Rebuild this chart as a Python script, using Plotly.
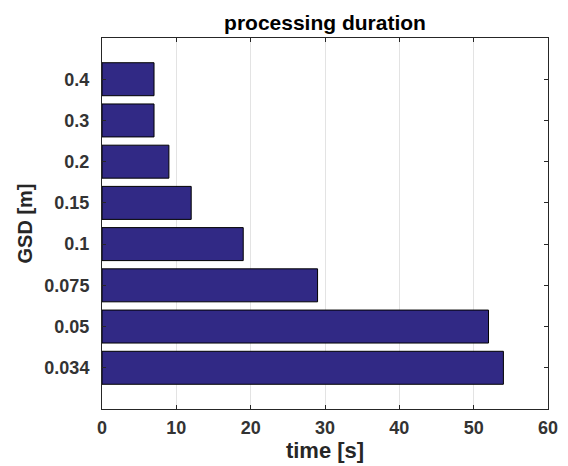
import plotly.graph_objects as go

categories = ["0.034", "0.05", "0.075", "0.1", "0.15", "0.2", "0.3", "0.4"]
times = [54, 52, 29, 19, 12, 9, 7, 7]
x_ticks = [0, 10, 20, 30, 40, 50, 60]

positions = list(range(1, len(categories) + 1))

fig = go.Figure()
fig.add_trace(go.Bar(
    x=times, y=positions, orientation="h", width=0.8,
    marker=dict(color="rgb(49,41,133)", line=dict(color="black", width=1)),
))

# page body has an 8px margin; figure sized so plot sits at x 102..548, y 38..409
W, H = 560, 458
L, R, T, B = 94, 20, 30, 57
fnt = "Liberation Sans, Arial, Helvetica, sans-serif"
fig.update_layout(
    width=W, height=H,
    margin=dict(l=L, r=R, t=T, b=B),
    plot_bgcolor="white", paper_bgcolor="white",
    showlegend=False,
    font=dict(family=fnt, color="#262626"),
    title=dict(text="<b>processing duration</b>", x=(L + (W - R)) / 2 / W, xanchor="center",
               y=1 - 15 / H, yanchor="middle",
               font=dict(size=21, color="black", family=fnt)),
)
fig.update_xaxes(
    range=[0, 60], tickvals=x_ticks, ticktext=[str(v) for v in x_ticks],
    automargin=False,
    showgrid=True, gridcolor="#e3e3e3", gridwidth=1,
    ticks="inside", ticklen=4, tickcolor="#262626",
    showline=True, linecolor="#262626", linewidth=1, mirror="ticks",
    tickfont=dict(size=18, family=fnt, color="#333333", weight="bold"),
    ticklabelstandoff=2,
    title=dict(text="<b>time [s]</b>", font=dict(size=22, family=fnt, color="#262626"), standoff=5),
    zeroline=False,
)
fig.update_yaxes(
    range=[0, 9], tickvals=positions, ticktext=categories,
    automargin=False,
    showgrid=False,
    ticks="inside", ticklen=4, tickcolor="#262626",
    showline=True, linecolor="#262626", linewidth=1, mirror="ticks",
    tickfont=dict(size=18, family=fnt, color="#333333", weight="bold"),
    ticklabelstandoff=8,
    title=dict(text="<b>GSD [m]</b>", font=dict(size=20, family=fnt, color="#262626"), standoff=6),
    zeroline=False,
)
fig.write_html("out.html")
